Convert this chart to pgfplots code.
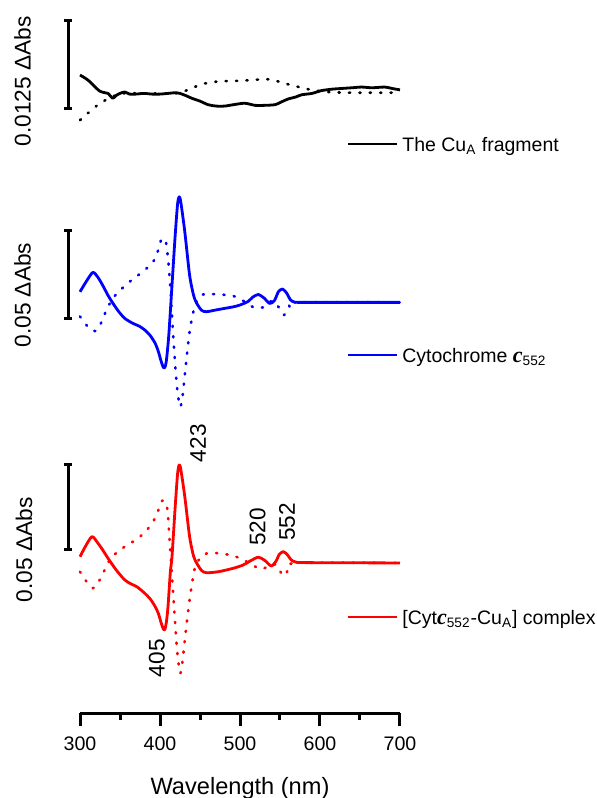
\documentclass[border=0pt]{standalone}
\usepackage{pgfplots}
\pgfplotsset{compat=1.18}
\usepackage{fontspec}
\setmainfont{Liberation Sans}
\newfontfamily\cfont{Liberation Serif}
\newcommand{\cc}{{\cfont\bfseries\itshape\fontsize{11}{11}\selectfont c}}
\newcommand{\fs}[1]{\fontsize{#1}{#1}\selectfont}

\pgfplotsset{
  panel/.style={
    x=0.4pt, xmin=300, xmax=700, anchor=south west, clip=false,
    every axis plot/.append style={line width=1.4pt, line join=round, smooth, tension=0.45},
  },
  dots/.style={line width=1.3pt, dash pattern=on 0.6pt off 4.6pt, line cap=round},
}
\tikzset{bar/.style={line width=1.5pt, black}}

\begin{document}
\begin{tikzpicture}
\path[use as bounding box] (0,0) rectangle (298pt,-399pt);

% top panel: Cu_A fragment
\begin{axis}[panel, hide axis, at={(40pt,-65pt)}, y=3520pt, ymin=-0.0054, ymax=0.01165]
\addplot[black] table {
300 0.0024
306 0.0020
312 0.0015
318 0.0008
325 0.0001
331 -0.0001
335 -0.0002
341 -0.0009
345 -0.0005
350 -0.0002
356 0.0000
362 -0.0003
370 -0.0003
380 -0.0002
390 -0.0003
400 -0.0003
410 -0.0002
420 -0.0001
425 -0.0002
432 -0.0005
440 -0.0009
450 -0.0013
460 -0.0018
470 -0.0020
481 -0.0020
492 -0.0018
506 -0.0016
519 -0.0019
530 -0.0019
544 -0.0018
552 -0.0014
560 -0.0010
570 -0.0007
577 -0.0004
590 -0.0002
602 0.0002
615 0.0004
627 0.0005
640 0.0006
652 0.0007
665 0.0006
681 0.0007
690 0.0005
700 0.0003
};
\addplot[black, dots] table {
300 -0.0040
312 -0.0028
325 -0.0016
340 -0.0007
352 -0.0002
380 -0.0002
419 -0.0002
435 0.0003
452 0.0011
473 0.0015
502 0.0016
535 0.0018
560 0.0011
585 0.0004
610 0.0000
640 -0.0001
700 -0.0001
};
\draw[bar] (axis cs:285.4,-0.00241) -- (axis cs:285.4,0.01009);
\draw[bar] (axis cs:280.4,-0.00241) -- (axis cs:290.4,-0.00241);
\draw[bar] (axis cs:280.4,0.01009) -- (axis cs:290.4,0.01009);
\node[rotate=90, inner sep=0, font=\fs{11.35}] at (axis cs:228,0.0015) {0.0125 ΔAbs};
\end{axis}

% middle panel: cytochrome c552
\begin{axis}[panel, hide axis, at={(40pt,-220pt)}, y=880pt, ymin=-0.0782, ymax=0.0666]
\addplot[blue] table {
300 0.0060
308 0.0120
316 0.0170
322 0.0145
328 0.0100
335 0.0040
340 0.0003
348 -0.0050
356 -0.0091
366 -0.0119
374 -0.0135
381 -0.0157
388 -0.0190
394 -0.0233
398 -0.0280
401 -0.0328
404 -0.0368
406 -0.0370
408 -0.0330
411 -0.0186
415 0.0098
419 0.0382
422 0.0560
424 0.0600
426 0.0570
431 0.0401
437 0.0155
442 0.0040
446 -0.0006
452 -0.0045
458 -0.0053
470 -0.0043
481 -0.0034
492 -0.0025
500 -0.0015
510 0.0005
516 0.0030
523 0.0045
530 0.0025
537 -0.0006
543 0.0010
548 0.0060
553 0.0076
558 0.0055
563 0.0015
568 0.0002
580 0.0000
700 0.0000
};
\addplot[blue, dots] table {
300 -0.0080
305 -0.0110
312 -0.0150
319 -0.0163
326 -0.0120
333 -0.0044
340 0.0015
348 0.0060
362 0.0117
381 0.0184
392 0.0235
398 0.0300
401 0.0350
404 0.0362
407 0.0354
410 0.0250
413 0.0080
417 -0.0224
421 -0.0470
425 -0.0593
428 -0.0540
431 -0.0413
437 -0.0167
444 -0.0015
454 0.0045
467 0.0047
480 0.0043
492 0.0036
504 0.0009
517 -0.0028
529 -0.0028
540 0.0009
548 -0.0025
555 -0.0072
562 -0.0025
569 0.0000
700 0.0000
};
\draw[bar] (axis cs:285.4,-0.0089) -- (axis cs:285.4,0.0411);
\draw[bar] (axis cs:280.4,-0.0089) -- (axis cs:290.4,-0.0089);
\draw[bar] (axis cs:280.4,0.0411) -- (axis cs:290.4,0.0411);
\node[rotate=90, inner sep=0, font=\fs{11.35}] at (axis cs:228,0.0041) {0.05 ΔAbs};
\end{axis}

% bottom panel: [Cyt c552-CuA] complex
\begin{axis}[panel, at={(40pt,-356.5pt)}, y=843pt, ymin=-0.089, ymax=0.073,
  axis x line*=bottom, axis y line=none,
  x axis line style={-, line width=1.5pt},
  xtick={300,400,...,700}, minor xtick={350,450,550,650},
  tick align=outside, major tick length=6.5pt, minor tick length=3.5pt,
  tick style={line width=1.5pt, black},
  /pgf/number format/assume math mode=true,
  xticklabel style={font=\fs{9.8}, yshift=-2pt},
  xlabel={Wavelength (nm)}, xlabel style={font=\fs{11.8}, yshift=-6.5pt},
]
\addplot[red] table {
300 0.0037
307 0.0100
315 0.0156
322 0.0120
328 0.0080
335 0.0028
345 -0.0040
356 -0.0101
364 -0.0125
371 -0.0141
381 -0.0180
388 -0.0215
394 -0.0259
398 -0.0300
401 -0.0348
404 -0.0390
406 -0.0395
408 -0.0350
410 -0.0259
413 -0.0050
415 0.0037
419 0.0334
422 0.0530
424 0.0581
426 0.0555
431 0.0393
437 0.0156
442 0.0040
446 -0.0002
452 -0.0045
458 -0.0058
473 -0.0052
492 -0.0031
504 -0.0012
514 0.0015
523 0.0034
531 0.0015
539 -0.0018
545 0.0010
549 0.0050
554 0.0067
559 0.0050
564 0.0018
570 0.0005
583 0.0002
700 0.0000
};
\addplot[red, dots] table {
300 -0.0052
308 -0.0110
316 -0.0150
322 -0.0120
327 -0.0081
333 -0.0020
340 0.0037
356 0.0097
371 0.0141
383 0.0192
392 0.0250
397 0.0300
401 0.0355
403 0.0370
406 0.0365
408 0.0354
410 0.0280
412 0.0136
417 -0.0219
421 -0.0496
425 -0.0654
428 -0.0590
431 -0.0457
437 -0.0219
444 -0.0022
454 0.0047
464 0.0061
476 0.0055
488 0.0047
500 0.0028
512 -0.0002
525 -0.0036
531 -0.0030
538 -0.0012
546 -0.0012
554 -0.0077
562 -0.0031
571 0.0000
700 0.0000
};
\draw[bar] (axis cs:285.4,0.0081) -- (axis cs:285.4,0.0581);
\draw[bar] (axis cs:280.4,0.0081) -- (axis cs:290.4,0.0081);
\draw[bar] (axis cs:280.4,0.0581) -- (axis cs:290.4,0.0581);
\node[rotate=90, inner sep=0, font=\fs{11.35}] at (axis cs:230,0.0077) {0.05 ΔAbs};
\node[rotate=90, inner sep=0, font=\fs{11.3}] at (axis cs:447.5,0.071) {423};
\node[rotate=90, inner sep=0, font=\fs{11.3}] at (axis cs:396,-0.0565) {405};
\node[rotate=90, inner sep=0, font=\fs{11.3}] at (axis cs:522,0.0214) {520};
\node[rotate=90, inner sep=0, font=\fs{11.3}] at (axis cs:559,0.0243) {552};
\end{axis}

% legends
\begin{scope}[font=\fs{9.75}]
\draw[line width=1.4pt, black] (174pt,-72pt) -- (198.5pt,-72pt);
\node[anchor=base west, inner sep=0] at (201pt,-75.5pt) {The Cu\textsubscript{A} fragment};
\draw[line width=1.4pt, blue] (174pt,-177.5pt) -- (198.5pt,-177.5pt);
\node[anchor=base west, inner sep=0] at (201pt,-181.25pt) {Cytochrome \cc\textsubscript{552}};
\draw[line width=1.4pt, red] (174pt,-308.5pt) -- (198.5pt,-308.5pt);
\node[anchor=base west, inner sep=0] at (201pt,-312.25pt) {[Cyt\cc\textsubscript{552}-Cu\textsubscript{A}] complex};
\end{scope}
\end{tikzpicture}
\end{document}
